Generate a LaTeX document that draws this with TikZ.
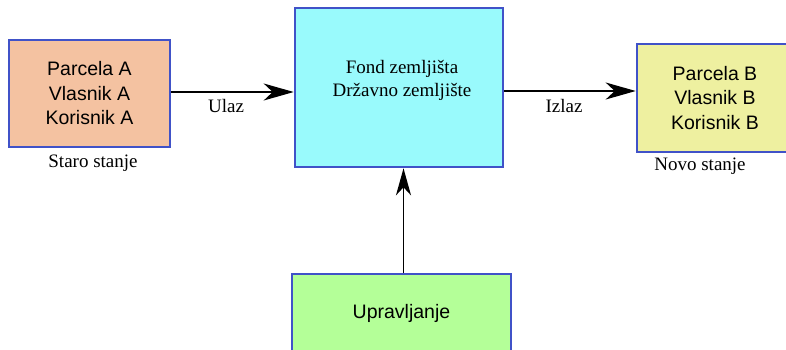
\documentclass[tikz,border=0pt]{standalone}
\usepackage{fontspec}
\setmainfont{Liberation Serif}
\setsansfont{Liberation Sans}
\usetikzlibrary{arrows.meta}
\definecolor{bord}{RGB}{64,82,200}
\definecolor{fillA}{RGB}{244,194,161}
\definecolor{fillC}{RGB}{153,250,252}
\definecolor{fillB}{RGB}{238,240,160}
\definecolor{fillD}{RGB}{180,255,152}
\begin{document}
\begin{tikzpicture}[x=1pt,y=-1pt,
  box/.style={draw=bord, line width=2.6pt, inner sep=0pt, align=center,
    font=\sffamily\fontsize{19.5}{24.5}\selectfont},
  lbl/.style={font=\rmfamily\fontsize{19}{23}\selectfont, inner sep=0pt, anchor=base},
  arr/.style={line width=1.8pt, -{Stealth[length=30pt,width=17pt,inset=9pt]}},
  varr/.style={line width=1.8pt, -{Stealth[length=27pt,width=15pt,inset=8pt]}}]
\clip (0,0) rectangle (786,349);
\fill[white] (0,0) rectangle (786,349);
\node[box, fill=fillA, minimum width=161pt, minimum height=107pt] (A) at (89.5,93.5)
  {Parcela A\\Vlasnik A\\Korisnik A};
\node[box, fill=fillC, minimum width=208pt, minimum height=159pt] (C) at (399,87.5) {};
\node[lbl, anchor=center, align=center] (Ct) at (402,80) {Fond zemljišta\\Državno zemljište};
\node[box, fill=fillB, minimum width=156pt, minimum height=108pt] (B) at (715,98)
  {Parcela B\\Vlasnik B\\Korisnik B};
\node[box, fill=fillD, minimum width=219pt, minimum height=78pt] (D) at (401.5,313)
  {Upravljanje};
\draw[arr] ([yshift=1.5pt]A.east) -- ([yshift=1.5pt]A.east -| C.west);
\draw[arr] ([yshift=2.5pt]A.east -| C.east) -- ([yshift=2.5pt]A.east -| B.west);
\draw[varr] ([xshift=2pt]D.north) -- ([xshift=2pt]D.north |- C.south);
\node[lbl] (ul) at (226,112) {Ulaz};
\node[lbl] (iz) at (564,112) {Izlaz};
\node[lbl] (st) at (93,167) {Staro stanje};
\node[lbl] (ns) at (700,170) {Novo stanje};
\end{tikzpicture}
\end{document}
